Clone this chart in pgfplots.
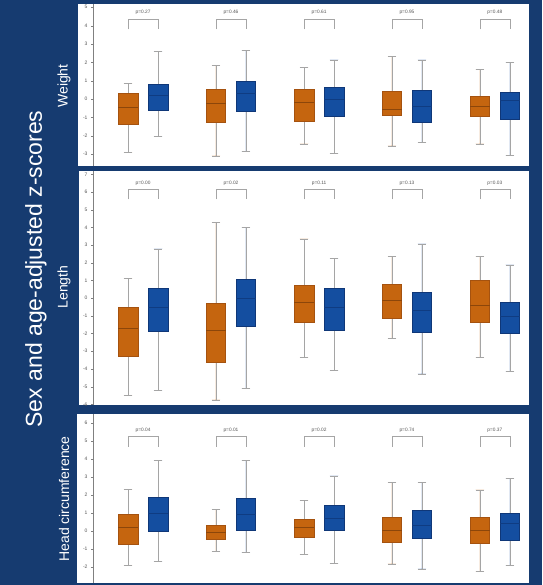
\documentclass[border=0pt]{standalone}
\usepackage{fontspec}
\setmainfont{Liberation Sans}
\usepackage{pgfplots}
\pgfplotsset{compat=1.18}
\usepgfplotslibrary{statistics}
\definecolor{bgblue}{RGB}{22,59,112}
\definecolor{ofill}{RGB}{197,101,15}
\definecolor{oedge}{RGB}{165,82,15}
\definecolor{omed}{RGB}{140,70,10}
\definecolor{bfill}{RGB}{20,78,160}
\definecolor{bedge}{RGB}{15,55,120}
\definecolor{bmed}{RGB}{15,60,130}
\definecolor{wgray}{RGB}{165,165,165}
\definecolor{tgray}{RGB}{85,85,85}
\pgfplotsset{
  panel/.style={anchor=south west, scale only axis, width=436pt,
    xmin=-1.17, xmax=13.37, axis x line=none, axis y line=left,
    axis line style={-, draw=gray, line width=0.7pt}, clip=false,
    tick align=outside, major tick length=2pt, tick style={draw=gray},
    /pgf/number format/assume math mode=true,
    yticklabel style={font=\fontsize{5}{6}\selectfont, text=tgray},
    boxplot/draw direction=y,
    boxplot/box extend=0.65, boxplot/whisker extend=0.28},
  obox/.style={draw=oedge, fill=ofill, line width=0.6pt,
    boxplot/every whisker/.style={draw=wgray, line width=0.6pt},
    boxplot/every median/.style={draw=omed, line width=0.8pt},
    boxplot/every box/.style={draw=oedge, fill=ofill}},
  bbox/.style={draw=bedge, fill=bfill, line width=0.6pt,
    boxplot/every whisker/.style={draw=wgray, line width=0.6pt},
    boxplot/every median/.style={draw=bmed, line width=0.8pt},
    boxplot/every box/.style={draw=bedge, fill=bfill}},
}
% position, lower whisker, lower quartile, median, upper quartile, upper whisker
\newcommand{\ob}[6]{\addplot[obox, boxplot prepared={draw position=#1, lower whisker=#2, lower quartile=#3, median=#4, upper quartile=#5, upper whisker=#6}] coordinates {};}
\newcommand{\bb}[6]{\addplot[bbox, boxplot prepared={draw position=#1, lower whisker=#2, lower quartile=#3, median=#4, upper quartile=#5, upper whisker=#6}] coordinates {};}
% left x, right x, bracket top, leg bottom, label y, label
\newcommand{\br}[6]{\addplot[draw=wgray, line width=0.6pt] coordinates {(#1,#4) (#1,#3) (#2,#3) (#2,#4)};
  \node[font=\fontsize{4.8}{5}\selectfont, text=tgray] at (axis cs:{(#1+#2)/2},#5) {#6};}
\begin{document}
\begin{tikzpicture}
\fill[bgblue] (0pt,0pt) rectangle (542pt,585pt);
\fill[white] (78pt,419pt) rectangle (529pt,581pt);
\fill[white] (79pt,180pt) rectangle (529pt,414pt);
\fill[white] (77pt,2pt) rectangle (529pt,171pt);

% Weight
\begin{axis}[panel, at={(93pt,419pt)}, height=162pt, ymin=-3.65, ymax=5.18, ytick={-3,-2,...,5}]
\ob{0}{-2.90}{-1.36}{-0.47}{0.31}{0.85}
\bb{1}{-2.02}{-0.60}{0.20}{0.82}{2.58}
\ob{2.93}{-3.10}{-1.29}{-0.24}{0.53}{1.85}
\bb{3.93}{-2.84}{-0.65}{0.30}{0.98}{2.64}
\ob{5.87}{-2.45}{-1.22}{-0.20}{0.53}{1.71}
\bb{6.87}{-2.98}{-0.93}{0.00}{0.64}{2.13}
\ob{8.8}{-2.56}{-0.87}{-0.56}{0.42}{2.31}
\bb{9.8}{-2.36}{-1.25}{-0.40}{0.45}{2.13}
\ob{11.73}{-2.45}{-0.95}{-0.38}{0.16}{1.62}
\bb{12.73}{-3.09}{-1.10}{-0.10}{0.36}{1.98}
\br{0}{1}{4.36}{3.80}{4.72}{p=0.27}
\br{2.93}{3.93}{4.36}{3.80}{4.72}{p=0.46}
\br{5.87}{6.87}{4.36}{3.80}{4.72}{p=0.61}
\br{8.8}{9.8}{4.36}{3.80}{4.72}{p=0.95}
\br{11.73}{12.73}{4.36}{3.80}{4.72}{p=0.48}
\end{axis}

% Length
\begin{axis}[panel, at={(93pt,180pt)}, height=234pt, ymin=-6.04, ymax=7.2, ytick={-6,-5,...,7}]
\ob{0}{-5.49}{-3.30}{-1.72}{-0.53}{1.13}
\bb{1}{-5.21}{-1.85}{-0.50}{0.57}{2.79}
\ob{2.93}{-5.75}{-3.64}{-1.81}{-0.28}{4.28}
\bb{3.93}{-5.11}{-1.60}{0.00}{1.09}{4.00}
\ob{5.87}{-3.34}{-1.36}{-0.25}{0.75}{3.36}
\bb{6.87}{-4.08}{-1.79}{-0.50}{0.55}{2.25}
\ob{8.8}{-2.26}{-1.13}{-0.13}{0.79}{2.36}
\bb{9.8}{-4.28}{-1.91}{-0.70}{0.34}{3.08}
\ob{11.73}{-3.34}{-1.36}{-0.43}{1.04}{2.36}
\bb{12.73}{-4.15}{-2.00}{-1.00}{-0.25}{1.89}
\br{0}{1}{6.19}{5.60}{6.52}{p=0.00}
\br{2.93}{3.93}{6.19}{5.60}{6.52}{p=0.02}
\br{5.87}{6.87}{6.19}{5.60}{6.52}{p=0.11}
\br{8.8}{9.8}{6.19}{5.60}{6.52}{p=0.13}
\br{11.73}{12.73}{6.19}{5.60}{6.52}{p=0.03}
\end{axis}

% Head circumference
\begin{axis}[panel, at={(93pt,2pt)}, height=169pt, ymin=-2.89, ymax=6.5, ytick={-2,-1,...,6}]
\ob{0}{-1.89}{-0.72}{0.20}{0.91}{2.31}
\bb{1}{-1.70}{0.00}{1.00}{1.85}{3.91}
\ob{2.93}{-1.13}{-0.44}{-0.09}{0.33}{1.20}
\bb{3.93}{-1.17}{0.06}{0.90}{1.81}{3.91}
\ob{5.87}{-1.28}{-0.37}{0.20}{0.65}{1.72}
\bb{6.87}{-1.80}{0.06}{0.70}{1.44}{3.06}
\ob{8.8}{-1.83}{-0.63}{0.02}{0.74}{2.72}
\bb{9.8}{-2.11}{-0.43}{0.30}{1.13}{2.72}
\ob{11.73}{-2.24}{-0.69}{0.02}{0.74}{2.28}
\bb{12.73}{-1.93}{-0.50}{0.40}{0.96}{2.93}
\br{0}{1}{5.24}{4.69}{5.60}{p=0.04}
\br{2.93}{3.93}{5.24}{4.69}{5.60}{p=0.01}
\br{5.87}{6.87}{5.24}{4.69}{5.60}{p=0.02}
\br{8.8}{9.8}{5.24}{4.69}{5.60}{p=0.74}
\br{11.73}{12.73}{5.24}{4.69}{5.60}{p=0.37}
\end{axis}

\node[rotate=90, text=white, font=\fontsize{23}{27}\selectfont] at (36pt,316pt) {Sex and age-adjusted z-scores};
\node[rotate=90, text=white, font=\fontsize{14}{16}\selectfont] at (64pt,499pt) {Weight};
\node[rotate=90, text=white, font=\fontsize{14}{16}\selectfont] at (64pt,298pt) {Length};
\node[rotate=90, text=white, font=\fontsize{14}{16}\selectfont] at (64pt,86pt) {Head circumference};
\pgfresetboundingbox
\path[use as bounding box] (0pt,0pt) rectangle (542pt,585pt);
\end{tikzpicture}
\end{document}
